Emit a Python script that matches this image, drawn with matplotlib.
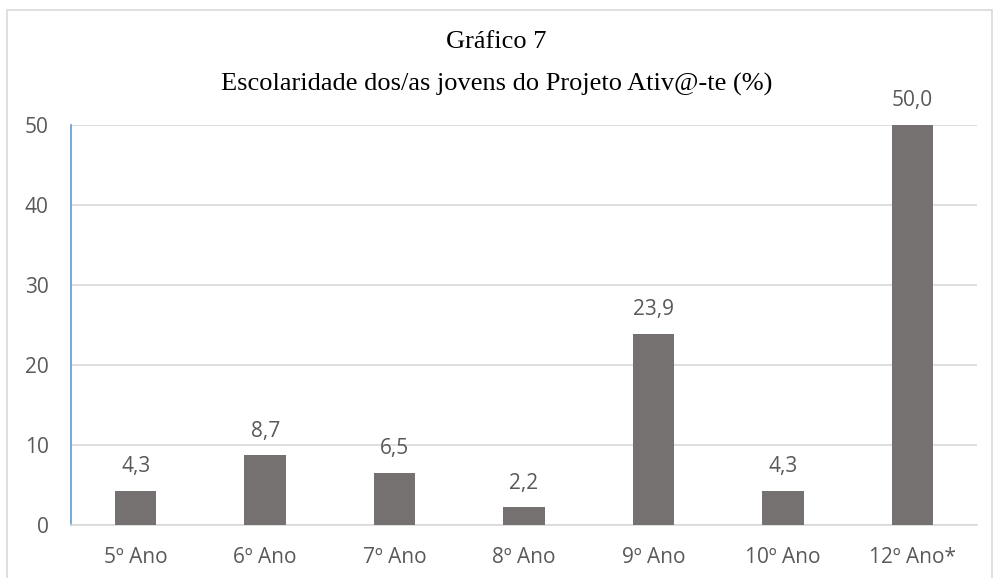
import matplotlib.pyplot as plt
from matplotlib.patches import Rectangle

categories = ['5º Ano', '6º Ano', '7º Ano', '8º Ano', '9º Ano', '10º Ano', '12º Ano*']
values = [4.3, 8.7, 6.5, 2.2, 23.9, 4.3, 50.0]
yticks = [0, 10, 20, 30, 40, 50]

BAR = '#767171'
TXT = '#595959'
GRID = '#D9D9D9'
SANS = ['Open Sans', 'DejaVu Sans']
SERIF = ['Liberation Serif', 'DejaVu Serif']
FS = 15

fig = plt.figure(figsize=(9.93, 5.78), dpi=100)
fig.patches.append(Rectangle((7 / 993, -0.01), 0.999 - 7 / 993, 1 - 10 / 578 + 0.01,
                             transform=fig.transFigure, fill=False,
                             edgecolor='#D9D9D9', linewidth=1.2))

ax = fig.add_axes([71 / 993, 1 - 525 / 578, (977 - 71) / 993, 400 / 578])
x = range(len(categories))
ax.bar(x, values, width=0.32, color=BAR, zorder=3)
ax.set_xlim(-0.5, len(categories) - 0.5)
ax.set_ylim(0, 50)
ax.set_yticks(yticks)
ax.set_yticklabels([str(t) for t in yticks], family=SANS, fontsize=FS, color=TXT)
ax.set_xticks(list(x))
ax.set_xticklabels(categories, family=SANS, fontsize=FS, color=TXT)
ax.tick_params(length=0)
ax.tick_params(axis='y', pad=16)
ax.tick_params(axis='x', pad=16)
ax.grid(axis='y', color=GRID, linewidth=1.2, zorder=0)
for s in ('top', 'right'):
    ax.spines[s].set_visible(False)
ax.spines['left'].set_color('#5B9BD5')
ax.spines['left'].set_linewidth(1.2)
ax.spines['bottom'].set_color(GRID)
ax.spines['bottom'].set_linewidth(1.2)

for i, v in enumerate(values):
    ax.annotate(f"{v:.1f}".replace('.', ','), (i, v), xytext=(0, 10),
                textcoords='offset points', ha='center', va='bottom',
                family=SANS, fontsize=FS, color=TXT)

fig.text(0.5, 1 - 42 / 578, 'Gráfico 7', ha='center', va='center',
         family=SERIF, fontsize=19, color='black')
fig.text(0.5, 1 - 84 / 578, 'Escolaridade dos/as jovens do Projeto Ativ@-te (%)',
         ha='center', va='center', family=SERIF, fontsize=19, color='black')

fig.savefig('out.png', dpi=100)
